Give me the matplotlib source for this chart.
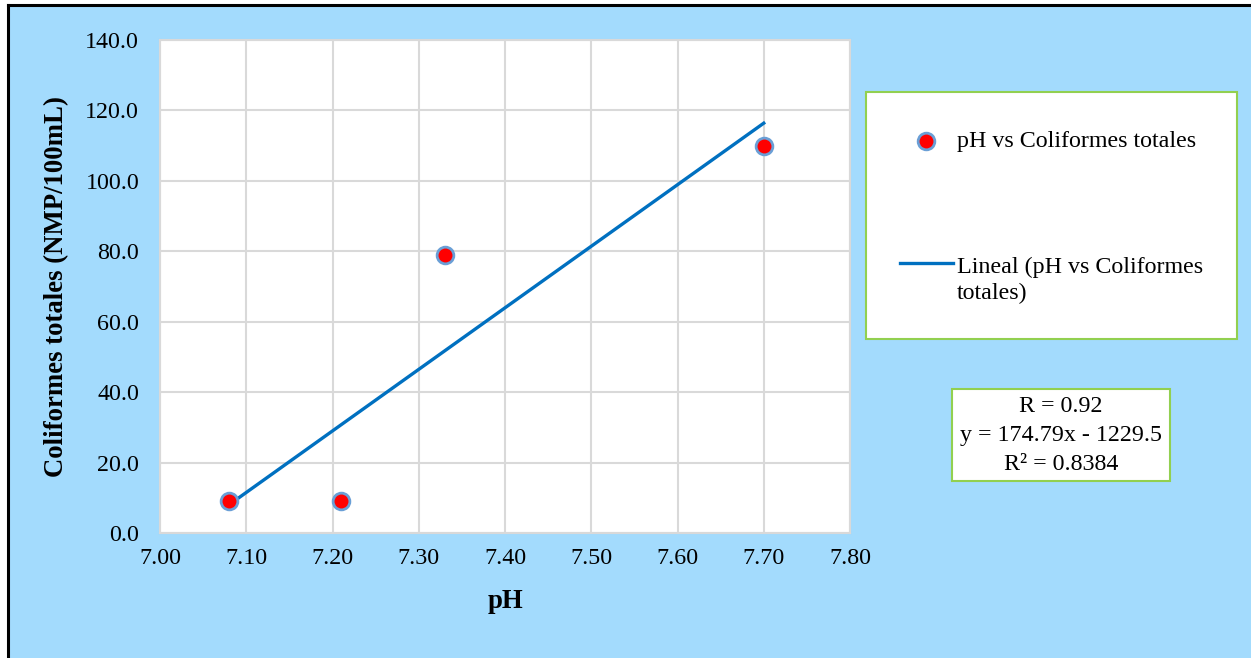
import matplotlib.pyplot as plt
from matplotlib.patches import Rectangle
from matplotlib.lines import Line2D

# pH vs total coliforms
ph = [7.08, 7.21, 7.33, 7.70]
coliformes = [9.0, 9.0, 79.0, 110.0]

slope = 174.79
intercept = -1229.5
r_text = 'R = 0.92\ny = 174.79x - 1229.5\nR² = 0.8384'

xticks = [7.00, 7.10, 7.20, 7.30, 7.40, 7.50, 7.60, 7.70, 7.80]
yticks = [0, 20, 40, 60, 80, 100, 120, 140]

plt.rcParams['font.family'] = ['Liberation Serif', 'DejaVu Serif']

W, H = 1251, 658
FS = 17.3
fig = plt.figure(figsize=(W / 100, H / 100), dpi=100)
fig.patch.set_facecolor('white')

# light blue chart area with black border on top / left
bg = '#a3dbfd'
fig.add_artist(Rectangle((9 / W, 0), 1, 1 - 6 / H, transform=fig.transFigure,
                         facecolor=bg, edgecolor='none', zorder=0))
fig.add_artist(Line2D([8 / W, 8 / W], [0, 1 - 4.5 / H], transform=fig.transFigure,
                      color='black', lw=2.2, zorder=1))
fig.add_artist(Line2D([8 / W, 1], [1 - 5 / H, 1 - 5 / H], transform=fig.transFigure,
                      color='black', lw=2.2, zorder=1))

ax = fig.add_axes([160 / W, 1 - 533 / H, 690 / W, 493 / H])
ax.set_facecolor('white')
ax.set_xlim(7.0, 7.8)
ax.set_ylim(0, 140)
ax.set_xticks(xticks)
ax.set_xticklabels(['%.2f' % x for x in xticks])
ax.set_yticks(yticks)
ax.set_yticklabels(['%.1f' % y for y in yticks])
ax.grid(True, color='#d9d9d9', lw=1.5)
ax.set_axisbelow(True)
for s in ax.spines.values():
    s.set_color('#d9d9d9')
    s.set_linewidth(1.5)
ax.tick_params(axis='y', length=0, labelsize=FS, pad=15)
ax.tick_params(axis='x', length=0, labelsize=FS, pad=11)

ax.scatter(ph, coliformes, s=145, c='#ff0000', edgecolors='#6a9fd6',
           linewidths=2.0, zorder=4, label='pH vs Coliformes totales')
xs = [min(ph), max(ph)]
ax.plot(xs, [slope * x + intercept for x in xs], color='#0070c0', lw=2.4,
        zorder=3, label='Lineal (pH vs Coliformes\ntotales)')

ax.set_xlabel('pH', fontsize=19.3, fontweight='bold')
ax.xaxis.set_label_coords((505 - 160) / 690, -(602 - 533) / 493)
ax.set_ylabel('Coliformes totales (NMP/100mL)', fontsize=19.3, fontweight='bold')
ax.yaxis.set_label_coords(-(160 - 57) / 690, 0.5)
ax.xaxis.label.set_va('center')
ax.yaxis.label.set_va('center')

# legend box
fig.add_artist(Rectangle((866 / W, 1 - 339 / H), 371 / W, 247 / H,
                         transform=fig.transFigure, facecolor='white',
                         edgecolor='#92d050', lw=1.5, zorder=2))
fig.add_artist(Line2D([926 / W], [1 - 141 / H], transform=fig.transFigure,
                      marker='o', ms=12, mfc='#ff0000', mec='#6a9fd6', mew=2.0,
                      ls='none', zorder=3))
fig.text(957 / W, 1 - 142 / H, 'pH vs Coliformes totales', fontsize=FS,
         va='center', ha='left', zorder=3)
fig.add_artist(Line2D([900 / W, 953 / W], [1 - 263 / H, 1 - 263 / H],
                      transform=fig.transFigure, color='#0070c0', lw=2.4, zorder=3))
fig.text(957 / W, 1 - 280 / H, 'Lineal (pH vs Coliformes\ntotales)', fontsize=FS,
         va='center', ha='left', linespacing=1.3, zorder=3)

# regression text box
fig.add_artist(Rectangle((952 / W, 1 - 481 / H), 218 / W, 92 / H,
                         transform=fig.transFigure, facecolor='white',
                         edgecolor='#92d050', lw=1.5, zorder=2))
fig.text(1061 / W, 1 - 436 / H, r_text, fontsize=FS, ha='center', va='center',
         linespacing=1.5, zorder=3)

fig.savefig('out.png', dpi=100)
